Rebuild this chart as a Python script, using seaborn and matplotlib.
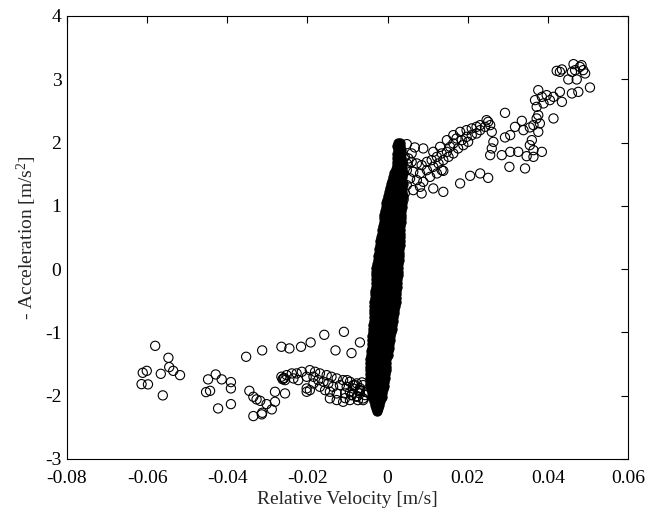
import matplotlib
matplotlib.use("Agg")
import matplotlib.pyplot as plt
import seaborn as sns
import pandas as pd

# ---------------- data ----------------
# scattered points on the negative-velocity branch
neg_x = [-0.0580, -0.0547, -0.0601, -0.0611, -0.0566, -0.0545, -0.0535, -0.0518, -0.0614, -0.0598, -0.0561,
         -0.0353, -0.0313, -0.0265, -0.0245, -0.0216, -0.0192,
         -0.0429, -0.0448, -0.0414, -0.0391, -0.0391, -0.0453, -0.0443, -0.0423, -0.0391,
         -0.0345, -0.0335, -0.0327, -0.0318, -0.0302, -0.0281, -0.0256, -0.0281, -0.0289, -0.0313, -0.0335, -0.0314,
         -0.0158, -0.0109, -0.0069, -0.0130, -0.0090,
         -0.0260, -0.0252, -0.0239, -0.0227, -0.0214, -0.0194, -0.0181, -0.0169, -0.0152, -0.0140, -0.0127, -0.0111,
         -0.0094, -0.0077, -0.0061, -0.0256, -0.0235, -0.0223, -0.0202, -0.0185, -0.0173, -0.0160, -0.0148, -0.0136,
         -0.0119, -0.0102, -0.0086, -0.0069, -0.0052, -0.0202, -0.0194, -0.0185, -0.0169, -0.0156, -0.0144, -0.0127,
         -0.0111, -0.0094, -0.0077, -0.0061, -0.0144, -0.0127, -0.0106, -0.0090, -0.0069, -0.0202,
         -0.0265, -0.0262, -0.0258,
         -0.0081, -0.0069, -0.0089, -0.0074, -0.0056, -0.0064,
         -0.0101, -0.0086, -0.0069, -0.0054, -0.0094, -0.0076, -0.0061, -0.0106]
neg_y = [-1.212, -1.401, -1.607, -1.638, -1.654, -1.548, -1.607, -1.675, -1.817, -1.821, -1.995,
         -1.385, -1.284, -1.227, -1.253, -1.227, -1.158,
         -1.664, -1.742, -1.742, -1.785, -1.885, -1.943, -1.923, -2.201, -2.133,
         -1.923, -2.017, -2.058, -2.081, -2.133, -1.938, -1.964, -2.096, -2.216, -2.270, -2.322, -2.295,
         -1.038, -0.991, -1.158, -1.284, -1.327,
         -1.727, -1.675, -1.648, -1.648, -1.622, -1.596, -1.622, -1.648, -1.675, -1.701, -1.727, -1.754,
         -1.780, -1.806, -1.833, -1.754, -1.727, -1.754, -1.701, -1.701, -1.754, -1.780, -1.806, -1.859,
         -1.833, -1.859, -1.885, -1.912, -1.938, -1.885, -1.912, -1.806, -1.859, -1.912, -2.043, -2.069,
         -2.096, -2.069, -2.017, -2.043, -1.938, -1.964, -1.964, -1.991, -1.964, -1.938,
         -1.700, -1.740, -1.720,
         -1.833, -1.912, -1.990, -2.070, -1.990, -1.790,
         -1.754, -1.833, -1.880, -1.943, -1.943, -2.006, -2.070, -2.038]

# scattered points on the positive-velocity branch
pos_x = [0.0293, 0.0293, 0.0306, 0.0318, 0.0335, 0.0339, 0.0355, 0.0364, 0.0380, 0.0376, 0.0360, 0.0355, 0.0364,
         0.0285, 0.0306, 0.0326, 0.0347, 0.0364, 0.0385, 0.0304, 0.0343, 0.0414,
         0.0376, 0.0368, 0.0372, 0.0376, 0.0372, 0.0385, 0.0389, 0.0397, 0.0405, 0.0414, 0.0430, 0.0435,
         0.0460, 0.0476, 0.0505,
         0.0422, 0.0435, 0.0430, 0.0464, 0.0468, 0.0480, 0.0488, 0.0493, 0.0472, 0.0451, 0.0460, 0.0484,
         0.0089, 0.0048, 0.0068, 0.0060, 0.0085, 0.0114, 0.0139, 0.0181, 0.0206, 0.0231, 0.0251,
         0.0260, 0.0264, 0.0260, 0.0256, 0.0222, 0.0247, 0.0210, 0.0231, 0.0251, 0.0139,
         0.0048, 0.0060, 0.0073, 0.0085, 0.0098, 0.0110, 0.0123, 0.0135, 0.0148, 0.0156, 0.0164, 0.0172,
         0.0185, 0.0197, 0.0210, 0.0222, 0.0231, 0.0243, 0.0256,
         0.0048, 0.0064, 0.0081, 0.0098, 0.0114, 0.0127, 0.0139, 0.0152, 0.0164, 0.0176, 0.0189, 0.0201,
         0.0056, 0.0073, 0.0089, 0.0106, 0.0123, 0.0135, 0.0081, 0.0064, 0.0048, 0.0043, 0.0052,
         0.0114, 0.0131, 0.0148, 0.0164, 0.0181, 0.0197, 0.0043, 0.0040]
pos_y = [2.469, 2.081, 2.117, 2.248, 2.343, 2.196, 2.239, 2.275, 2.302, 2.169, 2.038, 1.959, 1.880,
         1.801, 1.853, 1.853, 1.785, 1.774, 1.853, 1.616, 1.591, 2.381,
         2.828, 2.670, 2.564, 2.433, 2.381, 2.722, 2.618, 2.749, 2.670, 2.722, 2.801, 2.643,
         2.776, 2.801, 2.870,
         3.133, 3.155, 3.117, 3.239, 3.144, 3.196, 3.144, 3.092, 2.997, 2.997, 3.117, 3.223,
         1.907, 1.975, 1.923, 1.828, 1.196, 1.275, 1.221, 1.354, 1.474, 1.512, 1.442,
         2.169, 2.011, 1.907, 1.801, 2.248, 2.354, 2.223, 2.275, 2.327, 1.553,
         1.670, 1.695, 1.670, 1.643, 1.695, 1.722, 1.774, 1.828, 1.853, 1.932, 1.986, 2.065,
         2.038, 2.090, 2.117, 2.144, 2.196, 2.248, 2.275,
         1.564, 1.537, 1.512, 1.564, 1.616, 1.670, 1.722, 1.774, 1.828, 1.907, 1.959, 2.011,
         1.433, 1.406, 1.379, 1.458, 1.512, 1.564, 1.300, 1.248, 1.327, 1.774, 1.749,
         1.853, 1.932, 2.038, 2.117, 2.169, 2.196, 1.200, 1.100]

# dense central band (sticking region): acceleration levels and velocities read per level
band_y = [2.00, 1.94, 1.88, 1.82, 1.76, 1.70, 1.64, 1.58, 1.52, 1.46, 1.40, 1.34, 1.28, 1.22, 1.16,
          1.10, 1.04, 0.98, 0.92, 0.86, 0.80, 0.74, 0.68, 0.62, 0.56, 0.50, 0.44, 0.38, 0.32, 0.26,
          0.20, 0.14, 0.08, 0.02, -0.04, -0.10, -0.16, -0.22, -0.28, -0.34, -0.40, -0.46, -0.52, -0.58,
          -0.64, -0.70, -0.76, -0.82, -0.88, -0.94, -1.00, -1.06, -1.12, -1.18, -1.24, -1.30, -1.36,
          -1.42, -1.48, -1.54, -1.60, -1.66, -1.72, -1.78, -1.84, -1.90, -1.96, -2.02, -2.08, -2.14,
          -2.20, -2.24]
band_x = [
    [0.0025, 0.0032], [0.0024, 0.0032], [0.0025, 0.0033], [0.0024, 0.0033], [0.0024, 0.0034],
    [0.0024, 0.0030, 0.0036], [0.0023, 0.0030, 0.0037], [0.0020, 0.0028, 0.0036],
    [0.0017, 0.0025, 0.0033, 0.0038], [0.0014, 0.0022, 0.0030, 0.0037], [0.0011, 0.0019, 0.0027, 0.0035],
    [0.0008, 0.0016, 0.0024, 0.0032, 0.0038], [0.0006, 0.0014, 0.0022, 0.0030, 0.0037],
    [0.0004, 0.0012, 0.0020, 0.0028, 0.0036], [0.0001, 0.0009, 0.0017, 0.0025, 0.0033, 0.0038],
    [-0.0001, 0.0007, 0.0015, 0.0023, 0.0031, 0.0036], [-0.0003, 0.0005, 0.0013, 0.0021, 0.0029, 0.0036],
    [-0.0005, 0.0003, 0.0011, 0.0019, 0.0027, 0.0035], [-0.0006, 0.0002, 0.0010, 0.0018, 0.0026, 0.0034],
    [-0.0008, 0.0000, 0.0008, 0.0016, 0.0024, 0.0034], [-0.0009, -0.0001, 0.0007, 0.0015, 0.0023, 0.0033],
    [-0.0010, -0.0002, 0.0006, 0.0014, 0.0022, 0.0030, 0.0033],
    [-0.0012, -0.0004, 0.0004, 0.0012, 0.0020, 0.0028, 0.0032],
    [-0.0013, -0.0005, 0.0003, 0.0011, 0.0019, 0.0027, 0.0032],
    [-0.0015, -0.0007, 0.0001, 0.0009, 0.0017, 0.0025, 0.0031],
    [-0.0016, -0.0008, 0.0000, 0.0008, 0.0016, 0.0024, 0.0031],
    [-0.0018, -0.0010, -0.0002, 0.0006, 0.0014, 0.0022, 0.0030],
    [-0.0019, -0.0011, -0.0003, 0.0005, 0.0013, 0.0021, 0.0030],
    [-0.0021, -0.0013, -0.0005, 0.0003, 0.0011, 0.0019, 0.0029],
    [-0.0022, -0.0014, -0.0006, 0.0002, 0.0010, 0.0018, 0.0026, 0.0029],
    [-0.0024, -0.0016, -0.0008, 0.0000, 0.0008, 0.0016, 0.0024, 0.0028],
    [-0.0025, -0.0017, -0.0009, -0.0001, 0.0007, 0.0015, 0.0023, 0.0028],
    [-0.0027, -0.0019, -0.0011, -0.0003, 0.0005, 0.0013, 0.0021, 0.0027],
    [-0.0028, -0.0020, -0.0012, -0.0004, 0.0004, 0.0012, 0.0020, 0.0027],
    [-0.0028, -0.0020, -0.0012, -0.0004, 0.0004, 0.0012, 0.0020, 0.0026],
    [-0.0029, -0.0021, -0.0013, -0.0005, 0.0003, 0.0011, 0.0019, 0.0025],
    [-0.0029, -0.0021, -0.0013, -0.0005, 0.0003, 0.0011, 0.0019, 0.0024],
    [-0.0030, -0.0022, -0.0014, -0.0006, 0.0002, 0.0010, 0.0018, 0.0024],
    [-0.0030, -0.0022, -0.0014, -0.0006, 0.0002, 0.0010, 0.0018, 0.0023],
    [-0.0031, -0.0023, -0.0015, -0.0007, 0.0001, 0.0009, 0.0017, 0.0022],
    [-0.0032, -0.0024, -0.0016, -0.0008, 0.0000, 0.0008, 0.0016, 0.0021],
    [-0.0032, -0.0024, -0.0016, -0.0008, 0.0000, 0.0008, 0.0016, 0.0021],
    [-0.0033, -0.0025, -0.0017, -0.0009, -0.0001, 0.0007, 0.0015, 0.0020],
    [-0.0033, -0.0025, -0.0017, -0.0009, -0.0001, 0.0007, 0.0015, 0.0019],
    [-0.0034, -0.0026, -0.0018, -0.0010, -0.0002, 0.0006, 0.0014, 0.0017],
    [-0.0034, -0.0026, -0.0018, -0.0010, -0.0002, 0.0006, 0.0012, 0.0016],
    [-0.0035, -0.0027, -0.0019, -0.0011, -0.0003, 0.0005, 0.0011, 0.0014],
    [-0.0035, -0.0027, -0.0019, -0.0011, -0.0003, 0.0005, 0.0013],
    [-0.0036, -0.0028, -0.0020, -0.0012, -0.0004, 0.0004, 0.0011],
    [-0.0036, -0.0028, -0.0020, -0.0012, -0.0004, 0.0004, 0.0010],
    [-0.0037, -0.0029, -0.0021, -0.0013, -0.0005, 0.0003, 0.0008],
    [-0.0038, -0.0030, -0.0022, -0.0014, -0.0006, 0.0002, 0.0007],
    [-0.0039, -0.0031, -0.0023, -0.0015, -0.0007, 0.0001, 0.0006],
    [-0.0039, -0.0031, -0.0023, -0.0015, -0.0007, 0.0001, 0.0004],
    [-0.0040, -0.0032, -0.0024, -0.0016, -0.0008, 0.0000, 0.0003],
    [-0.0041, -0.0033, -0.0025, -0.0017, -0.0009, -0.0001, 0.0002],
    [-0.0042, -0.0034, -0.0026, -0.0018, -0.0010, -0.0002, 0.0000],
    [-0.0043, -0.0035, -0.0027, -0.0019, -0.0011, -0.0003],
    [-0.0043, -0.0035, -0.0027, -0.0019, -0.0011, -0.0003],
    [-0.0044, -0.0036, -0.0028, -0.0020, -0.0012, -0.0004],
    [-0.0045, -0.0037, -0.0029, -0.0021, -0.0013, -0.0005],
    [-0.0045, -0.0037, -0.0029, -0.0021, -0.0013, -0.0006],
    [-0.0045, -0.0037, -0.0029, -0.0021, -0.0013, -0.0007],
    [-0.0044, -0.0036, -0.0028, -0.0020, -0.0012, -0.0008],
    [-0.0043, -0.0035, -0.0027, -0.0019, -0.0011, -0.0009],
    [-0.0042, -0.0034, -0.0026, -0.0018, -0.0011],
    [-0.0040, -0.0033, -0.0026, -0.0019, -0.0013],
    [-0.0038, -0.0031, -0.0025, -0.0019, -0.0015],
    [-0.0035, -0.0029, -0.0023, -0.0018],
    [-0.0032, -0.0026, -0.0021],
    [-0.0029, -0.0024],
    [-0.0027],
]

x_ticks = [-0.08, -0.06, -0.04, -0.02, 0.0, 0.02, 0.04, 0.06]
x_tick_labels = ["-0.08", "-0.06", "-0.04", "-0.02", "0", "0.02", "0.04", "0.06"]
y_ticks = [-3, -2, -1, 0, 1, 2, 3, 4]
y_tick_labels = ["-3", "-2", "-1", "0", "1", "2", "3", "4"]

# ---------------- build tables ----------------
bx, by = [], []
for yv, xs in zip(band_y, band_x):
    for xv in xs:
        bx.append(xv)
        by.append(yv)

df_scatter = pd.DataFrame({"vel": neg_x + pos_x, "acc": neg_y + pos_y})
df_band = pd.DataFrame({"vel": bx, "acc": by})

# ---------------- plot ----------------
sns.set_style("white")
plt.rcParams["font.family"] = ["Liberation Serif", "DejaVu Serif"]
plt.rcParams["mathtext.fontset"] = "custom"
plt.rcParams["mathtext.rm"] = "Liberation Serif"
plt.rcParams["mathtext.it"] = "Liberation Serif"
plt.rcParams["axes.unicode_minus"] = False

fig = plt.figure(figsize=(6.61, 5.17), dpi=100)
ax = fig.add_axes([0.1014, 0.1122, 0.8487, 0.8569])

# dense band: overlapping circles render solid black
sns.scatterplot(data=df_band, x="vel", y="acc", ax=ax, marker="o", s=44,
                linewidth=0.8, legend=False)
band_coll = ax.collections[-1]
band_coll.set_facecolor("black")
band_coll.set_edgecolor("black")

# scattered hollow circles
sns.scatterplot(data=df_scatter, x="vel", y="acc", ax=ax, marker="o", s=44,
                linewidth=0.8, legend=False)
coll = ax.collections[-1]
coll.set_facecolor("none")
coll.set_edgecolor("black")
coll.set_linewidth(0.8)

ax.set_xlim(-0.08, 0.06)
ax.set_ylim(-3, 4)
ax.set_xticks(x_ticks)
ax.set_xticklabels(x_tick_labels)
ax.set_yticks(y_ticks)
ax.set_yticklabels(y_tick_labels)

ax.tick_params(axis="both", which="both", direction="in", length=5, width=0.8,
               top=True, right=True, labelsize=14, colors="black")
ax.tick_params(axis="x", pad=8)
ax.tick_params(axis="y", pad=4)
for sp in ax.spines.values():
    sp.set_visible(True)
    sp.set_color("black")
    sp.set_linewidth(0.8)

ax.set_xlabel("Relative Velocity [m/s]", fontsize=14, labelpad=3)
ax.set_ylabel("- Acceleration [m/s$^{2}$]", fontsize=14, labelpad=4)

fig.savefig("out.png", dpi=100, facecolor="white")
